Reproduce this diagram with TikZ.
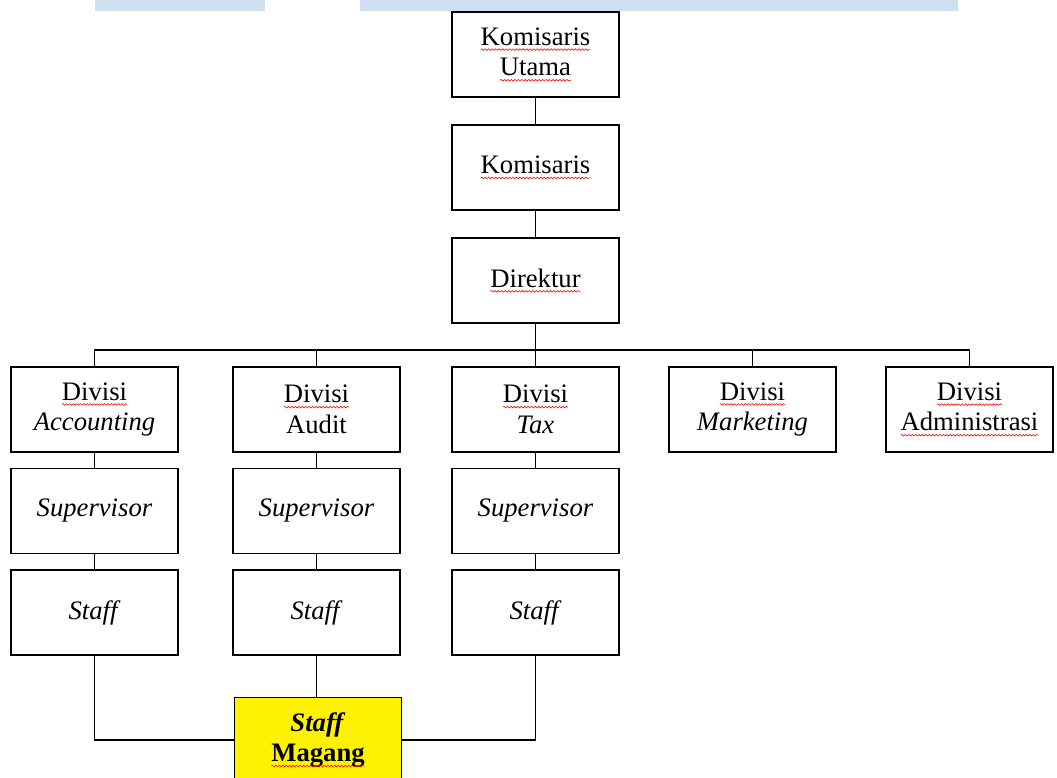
\documentclass[tikz,border=0pt]{standalone}
\usepackage{fontspec}
\setmainfont{Liberation Serif}
\usetikzlibrary{decorations.pathmorphing}
\newcommand\spell[1]{\tikz[baseline=(w.base)]{\node[inner sep=0pt,outer sep=0pt,minimum width=0pt,
	minimum height=0pt,draw=none,fill=none] (w) {#1};
	\draw[red,line width=0.45pt,decorate,decoration={snake,amplitude=0.6pt,segment length=2.6pt}]
	([yshift=-3.2pt]w.base west) -- ([yshift=-3.2pt]w.base east);}}
\definecolor{barblue}{RGB}{206,224,240}
\tikzset{
  unit/.style={draw=black,line width=0.9pt,minimum width=125.25pt,minimum height=63.75pt,
    inner sep=0pt,align=center,font=\fontsize{20}{23}\selectfont},
  link/.style={line width=0.8pt}
}
\begin{document}
\begin{tikzpicture}[x=0.75pt,y=-0.75pt]
	\useasboundingbox (0,0) rectangle (1057,778);
	\fill[barblue] (95,0) rectangle (265,11);
	\fill[barblue] (360,0) rectangle (958,11);
	% top of the chart
	\node[unit] (kutama) at (535.5,54.5) {\spell{Komisaris}\\\spell{Utama}};
	\node[unit] (kom) at (535.5,167.5) {\spell{Komisaris}};
	\node[unit] (dir) at (535.5,280.5) {\spell{Direktur}};
	% divisions
	\node[unit] (acc) at (94.5,409.5) {\spell{Divisi}\\\textit{Accounting}};
	\node[unit] (aud) at (316.5,409.5) {\spell{Divisi}\\Audit};
	\node[unit] (tax) at (535.5,409.5) {\spell{Divisi}\\\textit{Tax}};
	\node[unit] (mkt) at (752.5,409.5) {\spell{Divisi}\\\textit{Marketing}};
	\node[unit] (adm) at (969.5,409.5) {\spell{Divisi}\\\spell{Administrasi}};
	\node[unit] (accsup) at (94.5,511) {\textit{Supervisor}};
	\node[unit] (audsup) at (316.5,511) {\textit{Supervisor}};
	\node[unit] (taxsup) at (535.5,511) {\textit{Supervisor}};
	\node[unit] (accstf) at (94.5,612.5) {\textit{Staff}};
	\node[unit] (audstf) at (316.5,612.5) {\textit{Staff}};
	\node[unit] (taxstf) at (535.5,612.5) {\textit{Staff}};
	\node[unit,fill=yellow,font=\fontsize{20}{23}\selectfont\bfseries] (mag) at (318,740) {\textit{Staff}\\\spell{Magang}};
	\coordinate (bus) at (535.5,350);
	\draw[link] (kutama) -- (kom);
	\draw[link] (kom) -- (dir);
	\draw[link] (dir) -- (bus);
	\draw[link] (acc.north) |- (bus) -| (adm.north);
	\draw[link] (aud.north) -- (aud.north |- bus);
	\draw[link] (tax.north) -- (bus);
	\draw[link] (mkt.north) -- (mkt.north |- bus);
	\foreach \d in {acc,aud,tax}{
		\draw[link] (\d) -- (\d sup);
		\draw[link] (\d sup) -- (\d stf);
	}
	\draw[link] (accstf.south) |- (mag.west);
	\draw[link] (taxstf.south) |- (mag.east);
	\draw[link] (audstf.south) -- (audstf.south |- mag.north);
\end{tikzpicture}
\end{document}
